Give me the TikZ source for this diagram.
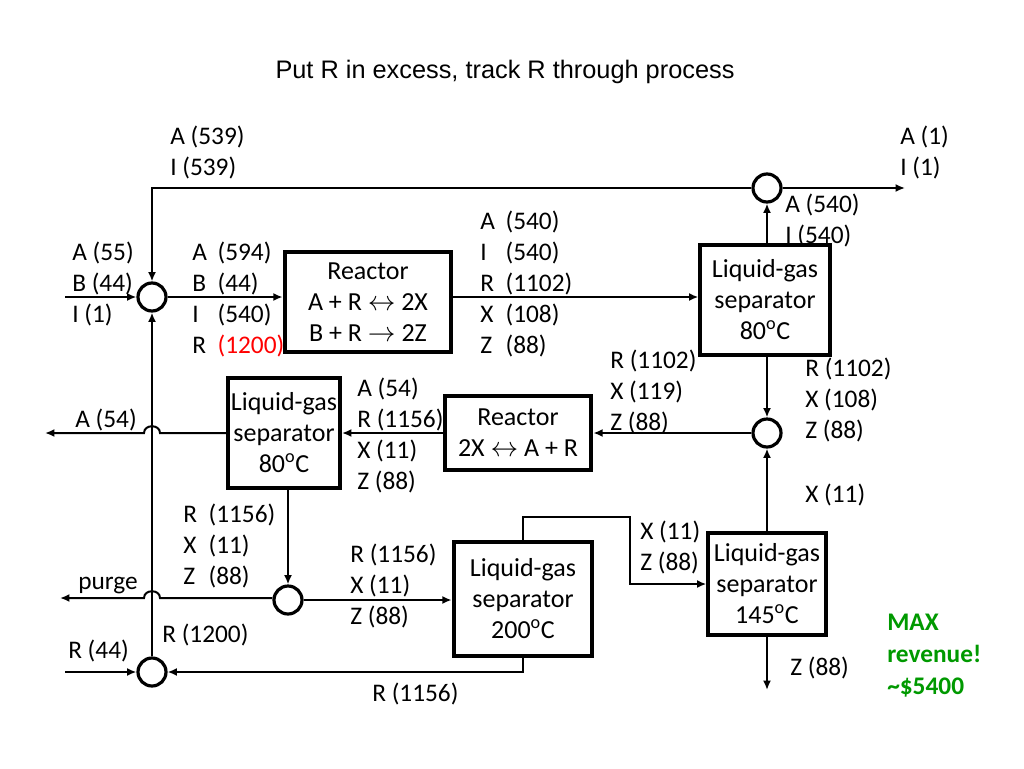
\documentclass[tikz,border=0pt]{standalone}
\usepackage{fontspec}
\setmainfont{Carlito}
\newfontfamily\titlefont{Liberation Sans}
\usetikzlibrary{arrows.meta}
\newcommand{\rw}[2]{\makebox[19pt][l]{#1}#2}
\begin{document}
\begin{tikzpicture}[x=0.75pt,y=-0.75pt,
  box/.style={draw,line width=3pt,align=center,inner sep=0pt,font=\fontsize{19.5}{23.25}\selectfont},
  mix/.style={draw,circle,line width=2.4pt,minimum size=21pt,inner sep=0pt},
  ln/.style={line width=1.5pt},
  arr/.style={ln,-{Latex[length=7pt,width=6pt]}},
  lab/.style={anchor=base west,inner sep=0pt,font=\fontsize{19}{23.25}\selectfont,align=left}]
\useasboundingbox (0,0) rectangle (1024,768);
\node[font=\titlefont\fontsize{19}{22}\selectfont] (title) at (505,72) {Put R in excess, track R through process};
% units
\node[box,minimum width=125pt,minimum height=75pt] (r1) at (368,302) {Reactor\\A + R $\leftrightarrow$ 2X\\B + R $\rightarrow$ 2Z};
\node[box,minimum width=97pt,minimum height=82pt] (lg1) at (765,300) {Liquid-gas\\separator\\80\textsuperscript{o}C};
\node[box,minimum width=110pt,minimum height=55pt] (r2) at (518,433) {Reactor\\2X $\leftrightarrow$ A + R};
\node[box,minimum width=84pt,minimum height=82pt] (lgl) at (284,433) {Liquid-gas\\separator\\80\textsuperscript{o}C};
\node[box,minimum width=104pt,minimum height=86pt] (lg200) at (523,599) {Liquid-gas\\separator\\200\textsuperscript{o}C};
\node[box,minimum width=88pt,minimum height=77pt] (lg145) at (767,584) {Liquid-gas\\separator\\145\textsuperscript{o}C};
\node[mix] (m1) at (152,297) {};
\node[mix] (ts) at (767,188) {};
\node[mix] (c2) at (767,433) {};
\node[mix] (c3) at (288,600) {};
\node[mix] (c4) at (152,672) {};
\coordinate (feed) at (65,297);
\coordinate (outA1) at (905,188);
\coordinate (h1a) at (160,433); \coordinate (h1b) at (144,433);
\coordinate (outA54) at (45,433);
\coordinate (h2a) at (160,598); \coordinate (h2b) at (144,598);
\coordinate (purge) at (60,598);
\coordinate (tp) at (630,517);
\coordinate (feedR) at (65,672);
\coordinate (outZ) at (767,690);
% connectors
\draw[arr] (feed) -- (m1);
\draw[arr] (m1) -- (r1.west|-m1);
\draw[arr] (r1.east|-m1) -- (lg1.west|-m1);
\draw[arr] (lg1.north-|ts) -- (ts.south);
\draw[arr] (ts.west) -| (m1.north);
\draw[arr] (ts.east) -- (outA1);
\draw[arr] (lg1.south-|c2) -- (c2.north);
\draw[arr] (lg145.north) -- (c2.south);
\draw[arr] (c2.west) -- (r2.east|-c2);
\draw[arr] (r2.west) -- (lgl.east|-r2);
\draw[arr] (lgl.west) -- (h1a) .. controls (160,424) and (144,424) .. (h1b) -- (outA54);
\draw[arr] (lgl.south-|c3) -- (c3.north);
\draw[arr] (c3.west|-h2a) -- (h2a) .. controls (160,589) and (144,589) .. (h2b) -- (purge);
\draw[arr] (c3.east) -- (lg200.west|-c3);
\draw[arr] (lg200.north) |- (tp) |- (lg145.west);
\draw[arr] (lg145.south) -- (outZ);
\draw[arr] (lg200.south) |- (c4.east);
\draw[arr] (feedR) -- (c4.west);
\draw[arr] (c4.north) -- (m1.south);
% labels (anchored at baseline of last line)
\node[lab] (l1) at (170,175) {A (539)\\I (539)};
\node[lab] (l2) at (900,175) {A (1)\\I (1)};
\node[lab] (l3) at (785,243) {A (540)\\I (540)};
\node[lab] (l4) at (480,353) {\rw{A}{(540)}\\\rw{I}{(540)}\\\rw{R}{(1102)}\\\rw{X}{(108)}\\\rw{Z}{(88)}};
\node[lab] (l5) at (72,322) {A (55)\\B (44)\\I (1)};
\node[lab] (l6) at (192,353) {\rw{A}{(594)}\\\rw{B}{(44)}\\\rw{I}{(540)}\\\rw{R}{\textcolor{red}{(1200)}}};
\node[lab] (l7) at (610,430) {R (1102)\\X (119)\\Z (88)};
\node[lab] (l8) at (805,438) {R (1102)\\X (108)\\Z (88)};
\node[lab] (l9) at (357,489) {A (54)\\R (1156)\\X (11)\\Z (88)};
\node[lab] (l10) at (75,427) {A (54)};
\node[lab] (l11) at (805,502) {X (11)};
\node[lab] (l12) at (183,584) {\rw{R}{(1156)}\\\rw{X}{(11)}\\\rw{Z}{(88)}};
\node[lab] (l13) at (350,624) {R (1156)\\X (11)\\Z (88)};
\node[lab] (l14) at (640,570) {X (11)\\Z (88)};
\node[lab] (l15) at (78,589) {purge};
\node[lab] (l16) at (162,642) {R (1200)};
\node[lab] (l17) at (68,658) {R (44)};
\node[lab] (l18) at (372,701) {R (1156)};
\node[lab] (l19) at (790,675) {Z (88)};
\node[lab,font=\bfseries\fontsize{19}{24}\selectfont,text=green!60!black] (l20) at (887,694) {MAX\\revenue!\\\textasciitilde\$5400};
\end{tikzpicture}
\end{document}
